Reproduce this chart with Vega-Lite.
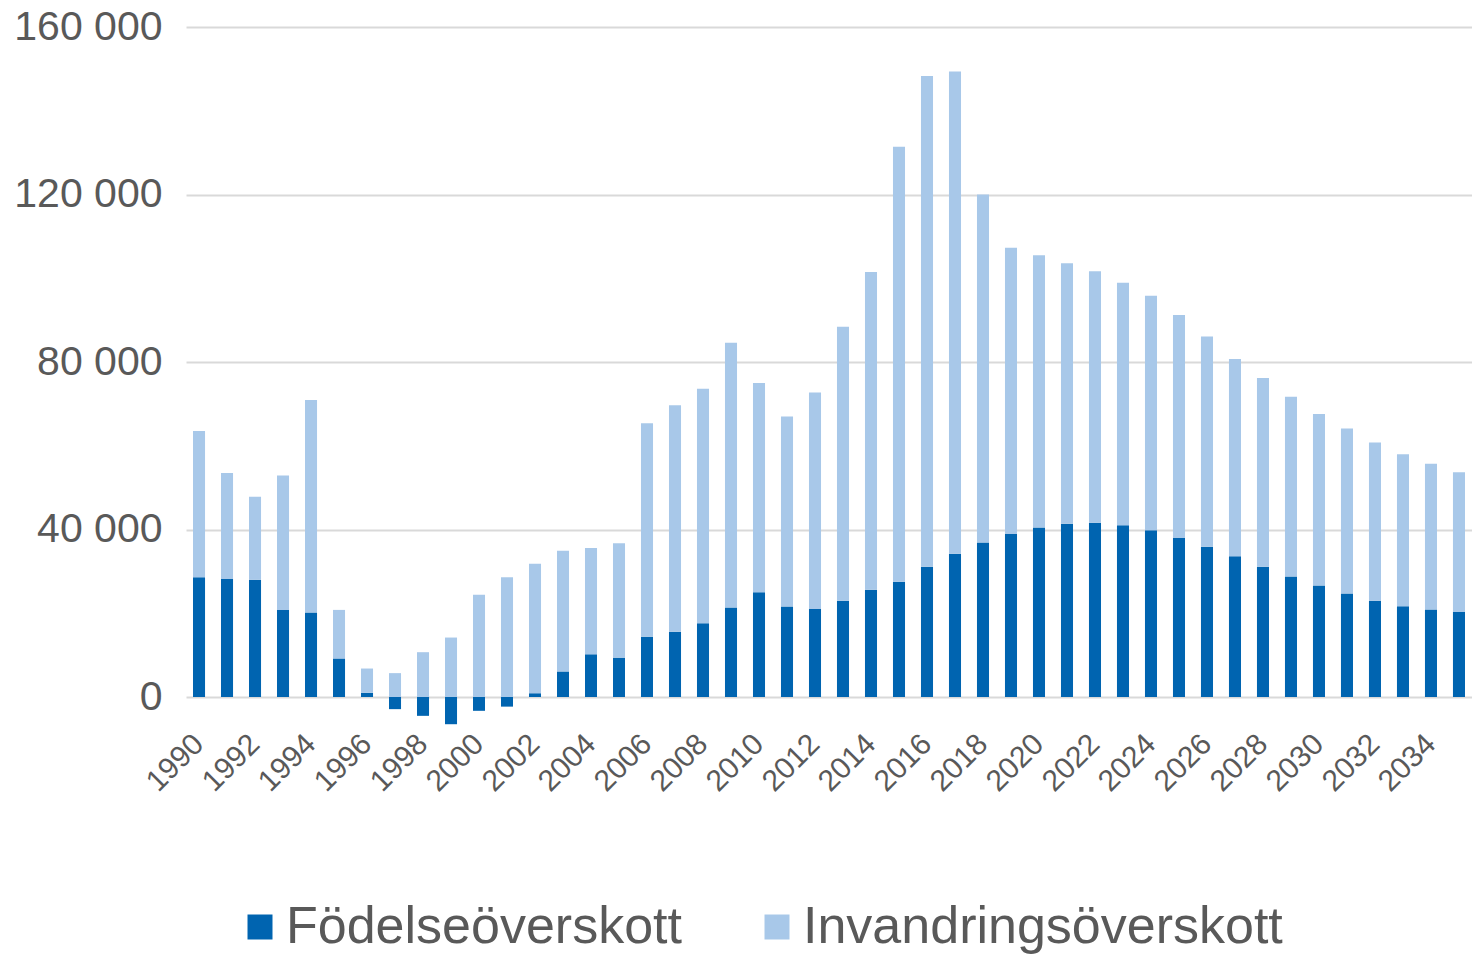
{
  "$schema": "https://vega.github.io/schema/vega-lite/v6.json",
  "width": 1286,
  "height": 670,
  "autosize": {"type": "none"},
  "padding": {"left": 186, "top": 27, "right": 0, "bottom": 257},
  "background": "white",
  "config": {
    "view": {"stroke": null},
    "font": "Liberation Sans",
    "locale": {"number": {"decimal": ",", "thousands": " ", "grouping": [3], "currency": ["", " kr"]}}
  },
  "data": {
    "values": [
      {"year": 1990, "type": "Födelseöverskott", "value": 28600}, {"year": 1990, "type": "Invandringsöverskott", "value": 34900},
      {"year": 1991, "type": "Födelseöverskott", "value": 28200}, {"year": 1991, "type": "Invandringsöverskott", "value": 25300},
      {"year": 1992, "type": "Födelseöverskott", "value": 28000}, {"year": 1992, "type": "Invandringsöverskott", "value": 19800},
      {"year": 1993, "type": "Födelseöverskott", "value": 20800}, {"year": 1993, "type": "Invandringsöverskott", "value": 32100},
      {"year": 1994, "type": "Födelseöverskott", "value": 20200}, {"year": 1994, "type": "Invandringsöverskott", "value": 50700},
      {"year": 1995, "type": "Födelseöverskott", "value": 9200}, {"year": 1995, "type": "Invandringsöverskott", "value": 11600},
      {"year": 1996, "type": "Födelseöverskott", "value": 1000}, {"year": 1996, "type": "Invandringsöverskott", "value": 5800},
      {"year": 1997, "type": "Födelseöverskott", "value": -2900}, {"year": 1997, "type": "Invandringsöverskott", "value": 5700},
      {"year": 1998, "type": "Födelseöverskott", "value": -4500}, {"year": 1998, "type": "Invandringsöverskott", "value": 10700},
      {"year": 1999, "type": "Födelseöverskott", "value": -6500}, {"year": 1999, "type": "Invandringsöverskott", "value": 14200},
      {"year": 2000, "type": "Födelseöverskott", "value": -3300}, {"year": 2000, "type": "Invandringsöverskott", "value": 24400},
      {"year": 2001, "type": "Födelseöverskott", "value": -2300}, {"year": 2001, "type": "Invandringsöverskott", "value": 28600},
      {"year": 2002, "type": "Födelseöverskott", "value": 900}, {"year": 2002, "type": "Invandringsöverskott", "value": 30900},
      {"year": 2003, "type": "Födelseöverskott", "value": 6100}, {"year": 2003, "type": "Invandringsöverskott", "value": 28800},
      {"year": 2004, "type": "Födelseöverskott", "value": 10200}, {"year": 2004, "type": "Invandringsöverskott", "value": 25400},
      {"year": 2005, "type": "Födelseöverskott", "value": 9400}, {"year": 2005, "type": "Invandringsöverskott", "value": 27300},
      {"year": 2006, "type": "Födelseöverskott", "value": 14400}, {"year": 2006, "type": "Invandringsöverskott", "value": 51000},
      {"year": 2007, "type": "Födelseöverskott", "value": 15600}, {"year": 2007, "type": "Invandringsöverskott", "value": 54100},
      {"year": 2008, "type": "Födelseöverskott", "value": 17600}, {"year": 2008, "type": "Invandringsöverskott", "value": 56000},
      {"year": 2009, "type": "Födelseöverskott", "value": 21400}, {"year": 2009, "type": "Invandringsöverskott", "value": 63200},
      {"year": 2010, "type": "Födelseöverskott", "value": 25000}, {"year": 2010, "type": "Invandringsöverskott", "value": 50000},
      {"year": 2011, "type": "Födelseöverskott", "value": 21600}, {"year": 2011, "type": "Invandringsöverskott", "value": 45400},
      {"year": 2012, "type": "Födelseöverskott", "value": 21000}, {"year": 2012, "type": "Invandringsöverskott", "value": 51700},
      {"year": 2013, "type": "Födelseöverskott", "value": 23000}, {"year": 2013, "type": "Invandringsöverskott", "value": 65400},
      {"year": 2014, "type": "Födelseöverskott", "value": 25600}, {"year": 2014, "type": "Invandringsöverskott", "value": 75900},
      {"year": 2015, "type": "Födelseöverskott", "value": 27500}, {"year": 2015, "type": "Invandringsöverskott", "value": 103900},
      {"year": 2016, "type": "Födelseöverskott", "value": 31100}, {"year": 2016, "type": "Invandringsöverskott", "value": 117200},
      {"year": 2017, "type": "Födelseöverskott", "value": 34200}, {"year": 2017, "type": "Invandringsöverskott", "value": 115200},
      {"year": 2018, "type": "Födelseöverskott", "value": 36900}, {"year": 2018, "type": "Invandringsöverskott", "value": 83100},
      {"year": 2019, "type": "Födelseöverskott", "value": 38900}, {"year": 2019, "type": "Invandringsöverskott", "value": 68400},
      {"year": 2020, "type": "Födelseöverskott", "value": 40500}, {"year": 2020, "type": "Invandringsöverskott", "value": 65000},
      {"year": 2021, "type": "Födelseöverskott", "value": 41400}, {"year": 2021, "type": "Invandringsöverskott", "value": 62200},
      {"year": 2022, "type": "Födelseöverskott", "value": 41600}, {"year": 2022, "type": "Invandringsöverskott", "value": 60100},
      {"year": 2023, "type": "Födelseöverskott", "value": 41000}, {"year": 2023, "type": "Invandringsöverskott", "value": 57900},
      {"year": 2024, "type": "Födelseöverskott", "value": 39800}, {"year": 2024, "type": "Invandringsöverskott", "value": 56000},
      {"year": 2025, "type": "Födelseöverskott", "value": 38000}, {"year": 2025, "type": "Invandringsöverskott", "value": 53200},
      {"year": 2026, "type": "Födelseöverskott", "value": 35900}, {"year": 2026, "type": "Invandringsöverskott", "value": 50200},
      {"year": 2027, "type": "Födelseöverskott", "value": 33600}, {"year": 2027, "type": "Invandringsöverskott", "value": 47100},
      {"year": 2028, "type": "Födelseöverskott", "value": 31100}, {"year": 2028, "type": "Invandringsöverskott", "value": 45100},
      {"year": 2029, "type": "Födelseöverskott", "value": 28800}, {"year": 2029, "type": "Invandringsöverskott", "value": 42900},
      {"year": 2030, "type": "Födelseöverskott", "value": 26600}, {"year": 2030, "type": "Invandringsöverskott", "value": 41000},
      {"year": 2031, "type": "Födelseöverskott", "value": 24700}, {"year": 2031, "type": "Invandringsöverskott", "value": 39400},
      {"year": 2032, "type": "Födelseöverskott", "value": 23000}, {"year": 2032, "type": "Invandringsöverskott", "value": 37800},
      {"year": 2033, "type": "Födelseöverskott", "value": 21700}, {"year": 2033, "type": "Invandringsöverskott", "value": 36300},
      {"year": 2034, "type": "Födelseöverskott", "value": 20900}, {"year": 2034, "type": "Invandringsöverskott", "value": 34800},
      {"year": 2035, "type": "Födelseöverskott", "value": 20300}, {"year": 2035, "type": "Invandringsöverskott", "value": 33400}
    ]
  },
  "mark": {"type": "bar"},
  "encoding": {
    "x": {
      "field": "year",
      "type": "ordinal",
      "scale": {"paddingInner": 0.57, "paddingOuter": 0.25},
      "axis": {
        "title": null,
        "values": [1990, 1992, 1994, 1996, 1998, 2000, 2002, 2004, 2006, 2008, 2010, 2012, 2014, 2016, 2018, 2020, 2022, 2024, 2026, 2028, 2030, 2032, 2034],
        "domain": false,
        "ticks": false,
        "labelAngle": -45,
        "labelAlign": "right",
        "labelBaseline": "middle",
        "labelPadding": 42,
        "labelFontSize": 30,
        "labelColor": "#595959",
        "labelFont": "Liberation Sans"
      }
    },
    "y": {
      "field": "value",
      "type": "quantitative",
      "stack": "zero",
      "scale": {"domain": [0, 160000], "nice": false, "zero": true},
      "axis": {
        "title": null,
        "values": [0, 40000, 80000, 120000, 160000],
        "format": ",d",
        "domain": false,
        "ticks": false,
        "grid": true,
        "gridColor": "#D9D9D9",
        "gridWidth": 2,
        "labelFontSize": 41,
        "labelColor": "#595959",
        "labelPadding": 24,
        "labelFont": "Liberation Sans"
      }
    },
    "order": {"field": "type", "sort": "ascending"},
    "color": {
      "field": "type",
      "type": "nominal",
      "scale": {"domain": ["Födelseöverskott", "Invandringsöverskott"], "range": ["#0064B0", "#A8C8E9"]},
      "legend": {
        "title": null,
        "orient": "none",
        "direction": "horizontal",
        "legendX": 48,
        "legendY": 874,
        "symbolType": "square",
        "symbolSize": 625,
        "symbolStrokeWidth": 0,
        "labelFontSize": 52,
        "labelColor": "#595959",
        "labelFont": "Liberation Sans",
        "labelOffset": 0,
        "columnPadding": 69,
        "labelLimit": 800
      }
    }
  }
}
